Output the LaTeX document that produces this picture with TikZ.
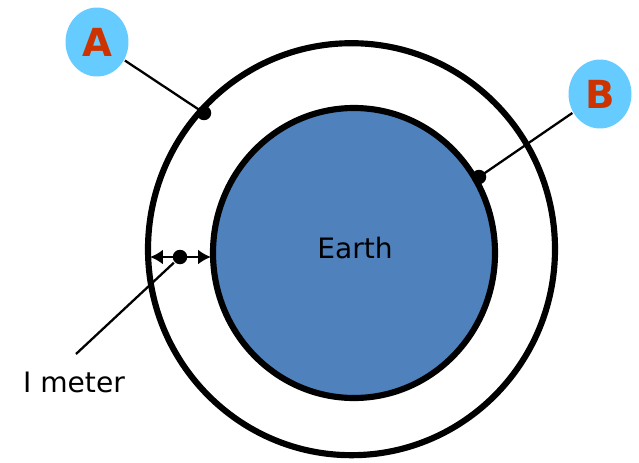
\documentclass[tikz,border=0pt]{standalone}
\usepackage{fontspec}
\setmainfont{DejaVu Sans}
\usetikzlibrary{shapes.geometric,arrows.meta}
\definecolor{earthblue}{RGB}{79,129,189}
\definecolor{tagblue}{RGB}{102,204,255}
\definecolor{tagred}{RGB}{204,51,0}
\tikzset{
  tag/.style={ellipse, fill=tagblue, minimum width=1.26cm, minimum height=1.38cm,
    inner sep=0pt, text=tagred, font=\fontsize{22}{26}\selectfont\bfseries},
  dot/.style={circle, fill=black, minimum size=0.29cm, inner sep=0pt},
  ring/.style={line width=3.5pt},
}

\begin{document}
\begin{tikzpicture}[x=0.02cm, y=-0.02cm, line width=1.3pt, font=\fontsize{16}{19}\selectfont]
            \useasboundingbox (0,0) rectangle (639,463);
            \coordinate (O) at (351.5, 249.2);
            \coordinate (E) at (354, 253);
            \coordinate (L) at (150, 257);
            \coordinate (R) at (211, 257);
            \coordinate (M) at (76, 354);

            \draw[ring] (O) ellipse [x radius=203.5, y radius=206];
            \draw[ring, fill=earthblue] (E) ellipse [x radius=141, y radius=145];

            \node[anchor=base] (earth) at (355, 258) {Earth};

            \node[dot] (dA) at (204, 113) {};
            \node[dot] (dB) at (479, 177) {};
            \node[dot] (dM) at (180, 257) {};

            \node[tag] (A) at (97, 42) {A};
            \node[tag] (B) at (600, 94) {B};

            \draw (A) -- (dA.center);
            \draw (B) -- (dB.center);

            \draw[{Latex[length=0.26cm, width=0.3cm]}-{Latex[length=0.26cm, width=0.3cm]}] (L) -- (R);
            \draw (dM) -- (M);
            \node[anchor=base] (meter) at (74, 392) {I meter};
        \end{tikzpicture}
\end{document}
